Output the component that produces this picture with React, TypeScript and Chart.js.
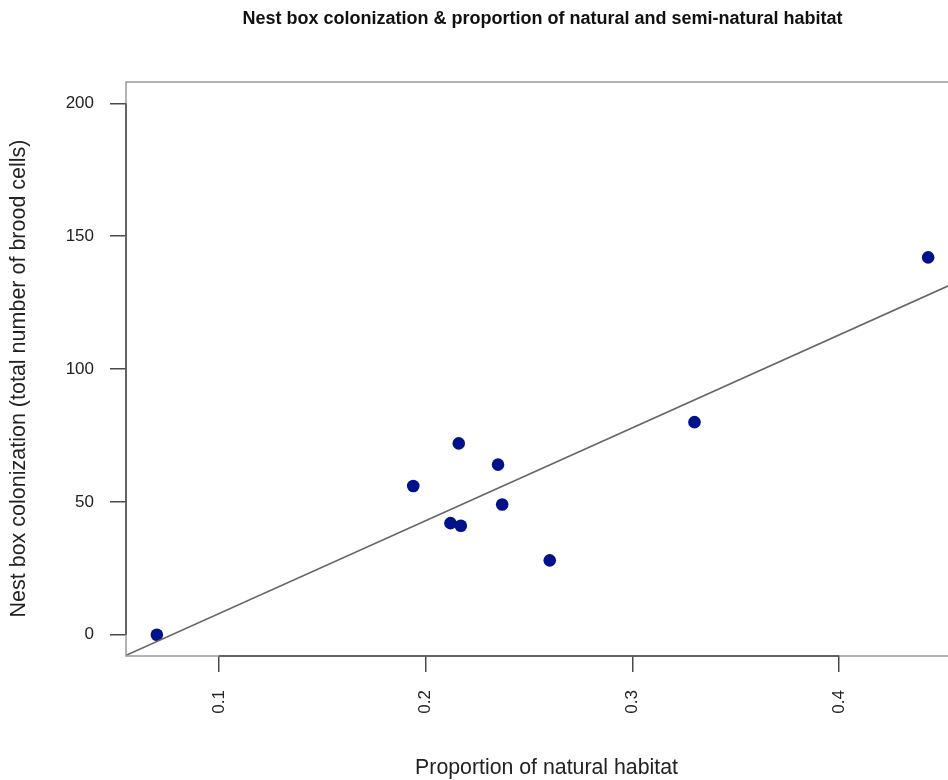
import { useEffect, useRef } from 'react';
import { Chart, registerables } from 'chart.js';

Chart.register(...registerables);

// ---- data ----
const habitatProportion = [0.07, 0.194, 0.212, 0.216, 0.217, 0.235, 0.237, 0.26, 0.33, 0.443];
const broodCells = [0, 56, 42, 72, 41, 64, 49, 28, 80, 142];
const xTicks = [0.1, 0.2, 0.3, 0.4];
const yTicks = [0, 50, 100, 150, 200];
const yLimits = [0, 200];

const chartTitle = 'Nest box colonization & proportion of natural and semi-natural habitat';
const xTitle = 'Proportion of natural habitat';
const yTitle = 'Nest box colonization (total number of brood cells)';

const FONT = "'Liberation Sans', Arial, Helvetica, sans-serif";

// R-style axis range: extend by 4% on each side
function rRange(lo: number, hi: number): [number, number] {
  const d = (hi - lo) * 0.04;
  return [lo - d, hi + d];
}

function regression(xs: number[], ys: number[]) {
  const n = xs.length;
  const mx = xs.reduce((a, b) => a + b, 0) / n;
  const my = ys.reduce((a, b) => a + b, 0) / n;
  let sxy = 0;
  let sxx = 0;
  for (let i = 0; i < n; i++) {
    sxy += (xs[i] - mx) * (ys[i] - my);
    sxx += (xs[i] - mx) * (xs[i] - mx);
  }
  const slope = sxy / sxx;
  return { slope, intercept: my - slope * mx };
}

const rBoxPlugin = {
  id: 'rBox',
  afterDraw(chart: any) {
    const { ctx, chartArea } = chart;
    const xs = chart.scales.x;
    const ys = chart.scales.y;
    ctx.save();
    // plot box (light grey)
    ctx.strokeStyle = '#9a9a9a';
    ctx.lineWidth = 1.5;
    ctx.beginPath();
    ctx.rect(chartArea.left, chartArea.top, chartArea.right - chartArea.left, chartArea.bottom - chartArea.top);
    ctx.stroke();
    // axis lines from first to last tick (dark)
    ctx.strokeStyle = '#4a4a4a';
    ctx.beginPath();
    ctx.moveTo(xs.getPixelForValue(xTicks[0]), chartArea.bottom);
    ctx.lineTo(xs.getPixelForValue(xTicks[xTicks.length - 1]), chartArea.bottom);
    ctx.moveTo(chartArea.left, ys.getPixelForValue(yTicks[0]));
    ctx.lineTo(chartArea.left, ys.getPixelForValue(yTicks[yTicks.length - 1]));
    ctx.stroke();

    // axis titles (R mtext style)
    ctx.fillStyle = '#222222';
    ctx.textAlign = 'center';
    ctx.textBaseline = 'middle';
    ctx.font = `21.3px ${FONT}`;
    ctx.fillText(xTitle, 546.5, 768);
    ctx.save();
    ctx.translate(19, 378.5);
    ctx.rotate(-Math.PI / 2);
    ctx.font = `21.5px ${FONT}`;
    ctx.fillText(yTitle, 0, 0);
    ctx.restore();
    ctx.restore();
  },
};

export default function App() {
  const canvasRef = useRef<HTMLCanvasElement | null>(null);

  useEffect(() => {
    const canvas = canvasRef.current;
    if (!canvas) return;
    const [xMin, xMax] = rRange(Math.min(...habitatProportion), Math.max(...habitatProportion));
    const [yMin, yMax] = rRange(yLimits[0], yLimits[1]);
    const { slope, intercept } = regression(habitatProportion, broodCells);

    Chart.defaults.font.family = FONT;

    const chart = new Chart(canvas, {
      type: 'scatter',
      data: {
        datasets: [
          {
            type: 'line',
            label: 'fit',
            data: [
              { x: xMin, y: intercept + slope * xMin },
              { x: xMax, y: intercept + slope * xMax },
            ],
            borderColor: '#666666',
            borderWidth: 1.6,
            pointRadius: 0,
            fill: false,
          },
          {
            type: 'scatter',
            label: 'sites',
            data: habitatProportion.map((x, i) => ({ x, y: broodCells[i] })),
            backgroundColor: '#00128A',
            borderWidth: 0,
            pointRadius: 6.3,
            pointHoverRadius: 6.3,
          },
        ],
      },
      options: {
        animation: false,
        responsive: false,
        layout: { padding: { left: 0, right: 11, top: 0, bottom: 0 } },
        plugins: {
          legend: { display: false },
          tooltip: { enabled: false },
          title: {
            display: true,
            fullSize: false,
            text: chartTitle,
            color: '#111111',
            font: { family: FONT, size: 18, weight: 'bold' },
            padding: { top: 8.5, bottom: 51.9 },
          },
        },
        scales: {
          x: {
            type: 'linear',
            position: 'bottom',
            min: xMin,
            max: xMax,
            afterBuildTicks: (s: any) => {
              s.ticks = xTicks.map((v) => ({ value: v }));
            },
            afterFit: (s: any) => {
              s.height = 124;
            },
            grid: {
              drawOnChartArea: false,
              drawTicks: true,
              tickLength: 16,
              color: '#4a4a4a',
              lineWidth: 1.5,
            },
            border: { display: false },
            ticks: {
              autoSkip: false,
              minRotation: 90,
              maxRotation: 90,
              padding: 18,
              color: '#222222',
              font: { family: FONT, size: 17 },
              callback: (v: any) => String(v),
            },
            title: { display: false, text: xTitle },
          },
          y: {
            type: 'linear',
            min: yMin,
            max: yMax,
            afterBuildTicks: (s: any) => {
              s.ticks = yTicks.map((v) => ({ value: v }));
            },
            afterFit: (s: any) => {
              s.width = 126;
            },
            grid: {
              drawOnChartArea: false,
              drawTicks: true,
              tickLength: 16,
              color: '#4a4a4a',
              lineWidth: 1.5,
            },
            border: { display: false },
            ticks: {
              padding: 16,
              color: '#222222',
              font: { family: FONT, size: 17 },
              callback: (v: any) => String(v),
            },
            title: { display: false, text: yTitle },
          },
        },
      },
      plugins: [rBoxPlugin],
    });

    return () => chart.destroy();
  }, []);

  return (
    <div
      style={{
        position: 'fixed',
        left: 0,
        top: 0,
        width: 948,
        height: 780,
        overflow: 'hidden',
        background: '#ffffff',
      }}
    >
      <canvas ref={canvasRef} width={970} height={780} style={{ display: 'block', width: 970, height: 780 }} />
    </div>
  );
}
